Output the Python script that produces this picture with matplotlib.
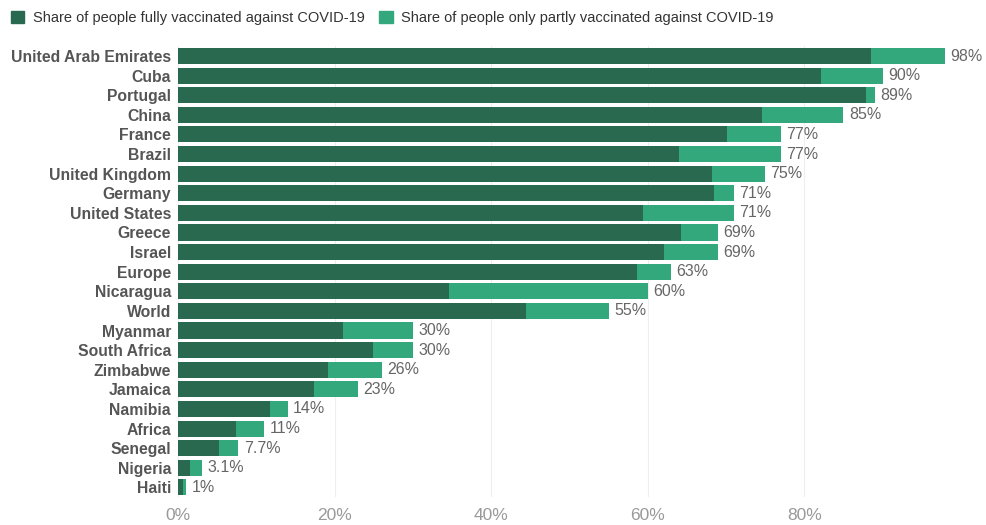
import matplotlib
matplotlib.use("Agg")
import matplotlib.pyplot as plt
from matplotlib.patches import Patch
import numpy as np

plt.rcParams["font.family"] = ["Liberation Sans", "DejaVu Sans"]

countries = ["United Arab Emirates", "Cuba", "Portugal", "China", "France", "Brazil",
             "United Kingdom", "Germany", "United States", "Greece", "Israel", "Europe",
             "Nicaragua", "World", "Myanmar", "South Africa", "Zimbabwe", "Jamaica",
             "Namibia", "Africa", "Senegal", "Nigeria", "Haiti"]
fully = [88.5, 82.1, 87.9, 74.6, 70.1, 64.0, 68.2, 68.5, 59.4, 64.2, 62.1, 58.6,
         34.6, 44.4, 21.1, 24.9, 19.1, 17.4, 11.7, 7.4, 5.2, 1.5, 0.6]
total = [98, 90, 89, 85, 77, 77, 75, 71, 71, 69, 69, 63, 60, 55, 30, 30, 26, 23,
         14, 11, 7.7, 3.1, 1]
total_labels = ["98%", "90%", "89%", "85%", "77%", "77%", "75%", "71%", "71%", "69%",
                "69%", "63%", "60%", "55%", "30%", "30%", "26%", "23%", "14%", "11%",
                "7.7%", "3.1%", "1%"]
partly = [t - f for t, f in zip(total, fully)]

c_full = "#28694F"
c_part = "#33A87D"

fig = plt.figure(figsize=(9.86, 5.25), dpi=100)
ax = fig.add_axes([0.1805, 0.053, 0.794, 0.859])

y = np.arange(len(countries))
ax.barh(y, fully, height=0.82, color=c_full, zorder=2)
ax.barh(y, partly, left=fully, height=0.82, color=c_part, zorder=2)

for yi, t, lab in zip(y, total, total_labels):
    ax.text(t + 0.7, yi, lab, va="center", ha="left", fontsize=11.5, color="#666666")

ax.set_xlim(0, 100)
ax.set_ylim(len(countries) - 0.5, -0.5)
ax.set_yticks(y)
ax.set_yticklabels(countries, fontsize=11.3, fontweight="bold", color="#555555")
ax.set_xticks([0, 20, 40, 60, 80])
ax.set_xticklabels(["0%", "20%", "40%", "60%", "80%"], fontsize=12.5, color="#999999")
ax.tick_params(axis="both", length=0)
ax.tick_params(axis="x", pad=8)
ax.tick_params(axis="y", pad=5)
ax.grid(axis="x", color="#eeeeee", linewidth=0.8, zorder=0)
for s in ax.spines.values():
    s.set_visible(False)

handles = [Patch(color=c_full, label="Share of people fully vaccinated against COVID-19"),
           Patch(color=c_part, label="Share of people only partly vaccinated against COVID-19")]
fig.legend(handles=handles, loc="upper left", bbox_to_anchor=(-0.002, 1.004), ncol=2,
           frameon=False, fontsize=10.5, handlelength=0.9, handleheight=0.9,
           handletextpad=0.6, columnspacing=1.0, labelcolor="#333333")

fig.savefig("out.png", dpi=100)
